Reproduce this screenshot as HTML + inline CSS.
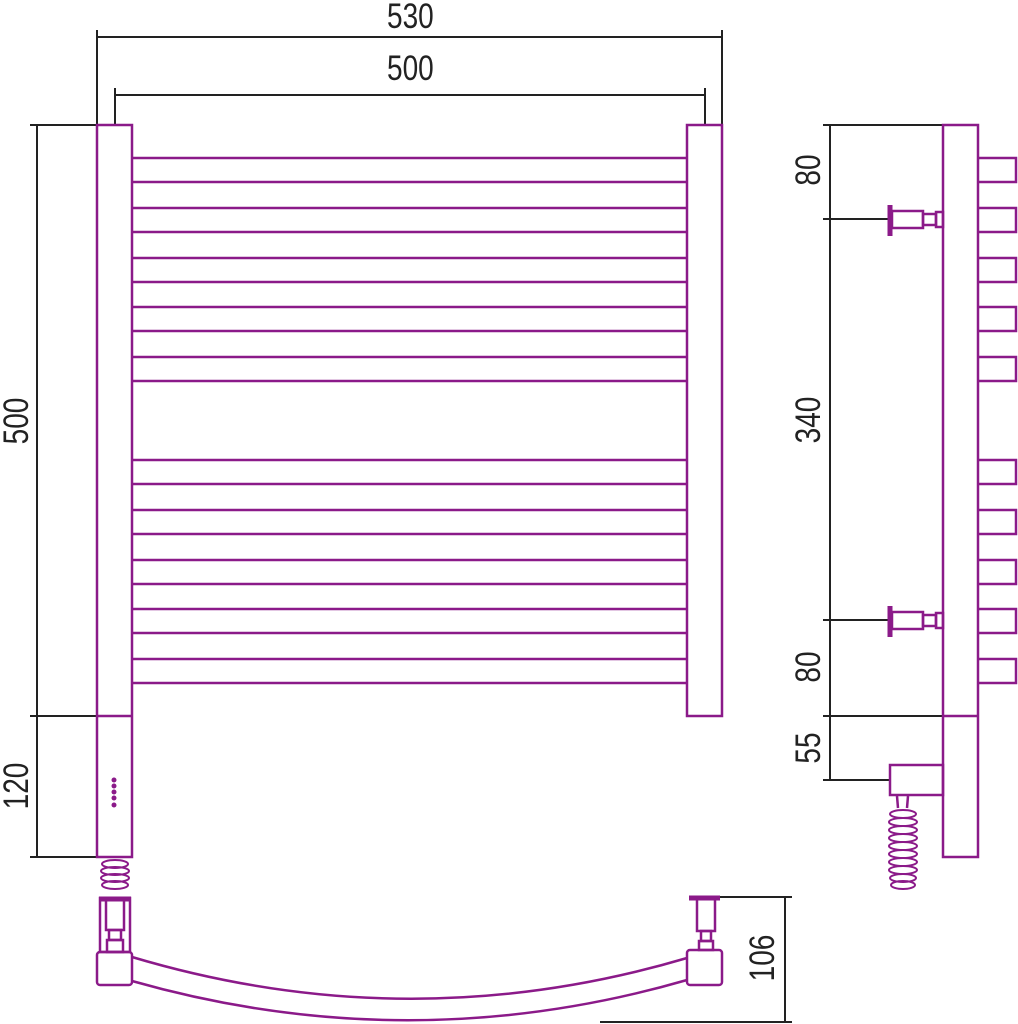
<!DOCTYPE html>
<html><head><meta charset="utf-8"><style>
html,body{margin:0;padding:0;background:#fff;width:1018px;height:1024px;overflow:hidden}
svg{display:block}
text{font-family:"Liberation Sans",sans-serif;font-size:35px;fill:#222}
</style></head><body>
<svg width="1018" height="1024" viewBox="0 0 1018 1024" xmlns="http://www.w3.org/2000/svg">
<g stroke="#222" stroke-width="2" fill="none">
<line x1="97" y1="37" x2="722" y2="37"/>
<line x1="97" y1="30" x2="97" y2="125"/>
<line x1="722" y1="30" x2="722" y2="125"/>
<line x1="115" y1="95" x2="705" y2="95"/>
<line x1="115" y1="88" x2="115" y2="125"/>
<line x1="705" y1="88" x2="705" y2="125"/>
<line x1="37" y1="125" x2="37" y2="857"/>
<line x1="30" y1="125" x2="97" y2="125"/>
<line x1="30" y1="716" x2="97" y2="716"/>
<line x1="30" y1="857" x2="97" y2="857"/>
<line x1="830" y1="125" x2="830" y2="780"/>
<line x1="823" y1="125" x2="943" y2="125"/>
<line x1="823" y1="219" x2="890" y2="219"/>
<line x1="823" y1="620" x2="890" y2="620"/>
<line x1="823" y1="716" x2="943" y2="716"/>
<line x1="823" y1="780" x2="890" y2="780"/>
<line x1="785" y1="897" x2="785" y2="1022"/>
<line x1="718" y1="897" x2="792" y2="897"/>
<line x1="600" y1="1022" x2="792" y2="1022"/>
</g>
<g transform="scale(0.8,1)">
<text x="513" y="28" text-anchor="middle">530</text>
<text x="513" y="80" text-anchor="middle">500</text>
</g>
<g>
<text transform="translate(28,421) rotate(-90) scale(0.8,1)" text-anchor="middle">500</text>
<text transform="translate(28,786) rotate(-90) scale(0.8,1)" text-anchor="middle">120</text>
<text transform="translate(820,170) rotate(-90) scale(0.8,1)" text-anchor="middle">80</text>
<text transform="translate(820,420) rotate(-90) scale(0.8,1)" text-anchor="middle">340</text>
<text transform="translate(820,667) rotate(-90) scale(0.8,1)" text-anchor="middle">80</text>
<text transform="translate(820,748) rotate(-90) scale(0.8,1)" text-anchor="middle">55</text>
<text transform="translate(774,958) rotate(-90) scale(0.8,1)" text-anchor="middle">106</text>
</g>
<g stroke="#8b1a89" stroke-width="2.5" fill="none">
<rect x="97" y="125" width="35" height="732"/>
<line x1="97" y1="716" x2="132" y2="716"/>
<rect x="687" y="125" width="35" height="591"/>
<path d="M132 158H687M132 182H687M132 208H687M132 232H687M132 258H687M132 282H687M132 307H687M132 331H687M132 357H687M132 381H687M132 460H687M132 484H687M132 510H687M132 534H687M132 560H687M132 584H687M132 609H687M132 633H687M132 659H687M132 683H687"/>
<rect x="943" y="125" width="35" height="732"/>
<line x1="943" y1="716" x2="978" y2="716"/>
<path d="M978 158H1016V182H978M978 208H1016V232H978M978 258H1016V282H978M978 307H1016V331H978M978 357H1016V381H978M978 460H1016V484H978M978 510H1016V534H978M978 560H1016V584H978M978 609H1016V633H978M978 659H1016V683H978"/>
<rect x="892" y="211" width="31" height="17"/><rect x="923" y="214" width="13" height="11"/><rect x="936" y="212" width="7" height="15"/>
<rect x="892" y="612" width="31" height="17"/><rect x="923" y="615" width="13" height="11"/><rect x="936" y="613" width="7" height="15"/>
<rect x="890" y="765" width="53" height="30"/>
<path d="M897 796 L898 808 M908 796 L907 808"/>
<g stroke-width="2">
<ellipse cx="903" cy="814" rx="13" ry="4"/><ellipse cx="903" cy="822" rx="14" ry="4"/><ellipse cx="903" cy="830" rx="14" ry="4"/><ellipse cx="903" cy="838" rx="14" ry="4"/><ellipse cx="903" cy="846" rx="14" ry="4"/><ellipse cx="903" cy="854" rx="14" ry="4"/><ellipse cx="903" cy="862" rx="14" ry="4"/><ellipse cx="903" cy="870" rx="14" ry="4"/><ellipse cx="903" cy="878" rx="13" ry="4"/><ellipse cx="903" cy="885" rx="12" ry="4"/>
<ellipse cx="115" cy="864" rx="13" ry="4"/><ellipse cx="115" cy="871" rx="14" ry="4"/><ellipse cx="115" cy="878" rx="14" ry="4"/><ellipse cx="115" cy="885" rx="13" ry="4"/>
</g>
<rect x="100" y="898" width="30" height="54"/>
<rect x="106" y="900" width="18" height="30"/>
<rect x="109" y="930" width="12" height="10"/><rect x="107" y="940" width="16" height="12"/>
<rect x="97" y="952" width="35" height="33" rx="3"/>
<rect x="697" y="899" width="18" height="32"/>
<rect x="701" y="931" width="10" height="10"/><rect x="699" y="941" width="14" height="9"/>
<rect x="687" y="950" width="35" height="35" rx="3"/>
<path d="M132 957 Q410 1040 687 958"/>
<path d="M132 981 Q410 1060 687 980"/>
</g>
<g stroke="#8b1a89" stroke-width="5" fill="none">
<line x1="890" y1="205" x2="890" y2="236"/>
<line x1="890" y1="606" x2="890" y2="637"/>
<line x1="689" y1="898" x2="720" y2="898"/>
<line x1="99" y1="899" x2="131" y2="899"/>
</g>
<g fill="#8b1a89">
<circle cx="114" cy="780" r="2.5"/><circle cx="114" cy="786" r="2.5"/><circle cx="114" cy="792" r="2.5"/><circle cx="114" cy="798" r="2.5"/><circle cx="114" cy="805" r="2.5"/>
</g>
</svg>
</body></html>
